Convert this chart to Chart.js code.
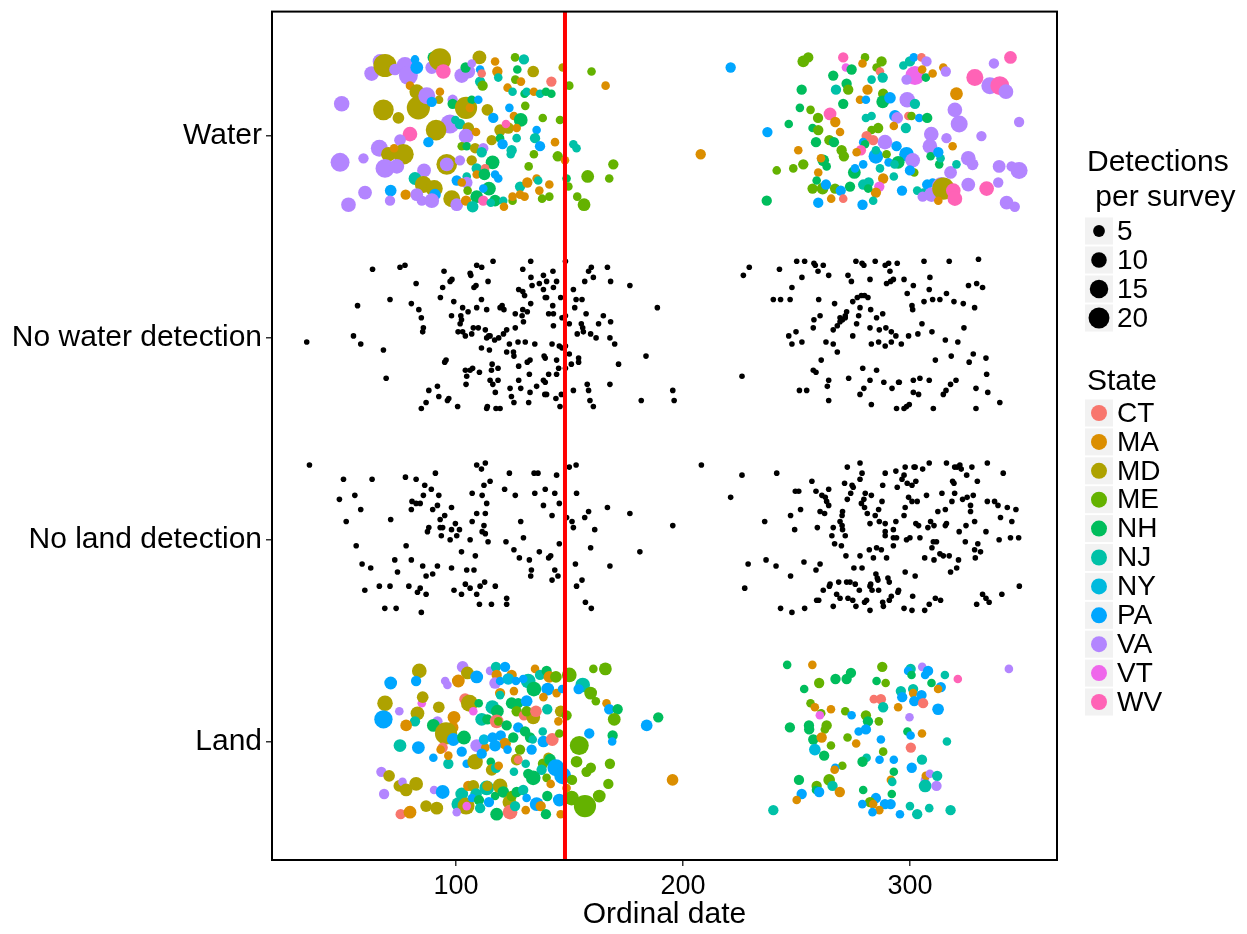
<!DOCTYPE html>
<html>
<head>
<meta charset="utf-8">
<script src="https://cdn.jsdelivr.net/npm/chart.js@4"></script>
<style>
  body { margin: 0; background: #fff; }
  canvas { display: block; }
</style>
</head>
<body>
<canvas id="myChart" width="1247" height="934"></canvas>
<script>
// row labels, bottom to top (y = 1..4)
const rowLabels = ["Land", "No land detection", "No water detection", "Water"];
const xTicks = [100, 200, 300];
const cutoffDate = 148;
const stateNames = ["CT", "MA", "MD", "ME", "NH", "NJ", "NY", "PA", "VA", "VT", "WV"];
const sizeBreaks = [5, 10, 15, 20];

// [ordinal date, jittered row value, state, detections per survey]
const waterPts = [
[62.8,4.31,'VA',6],[66.5,4.37,'VA',6],[68.7,4.35,'MD',20],[73.1,4.33,'VA',3],[77.5,4.35,'VA',9],[79.0,4.30,'VA',12],[82.7,4.34,'PA',4],[81.9,4.38,'PA',1],[89.3,4.34,'VA',4],[90.0,4.39,'NH',3],[92.9,4.38,'MD',18],[94.4,4.32,'WV',6],[102.5,4.30,'VA',6],[105.4,4.32,'VA',5],[104.2,4.34,'NH',2],[110.3,4.39,'MD',5],[106.9,4.36,'VA',1],[110.6,4.33,'PA',1],[110.6,4.27,'NJ',2],[111.3,4.31,'CT',1],[111.7,4.25,'ME',2],[117.2,4.37,'MA',1],[118.2,4.32,'MA',2],[118.6,4.29,'NJ',1],[126.0,4.39,'ME',1],[129.9,4.38,'NJ',2],[127.0,4.33,'NH',1],[126.1,4.28,'ME',1],[128.6,4.27,'MA',1],[134.0,4.32,'MD',3],[122.7,4.24,'MA',1],[142.0,4.27,'CT',2],[147.0,4.34,'MD',1],[159.7,4.32,'ME',1],[165.9,4.25,'MA',1],[149.9,4.25,'ME',1],
[79.7,4.25,'MA',1],[82.7,4.22,'MD',6],[83.4,4.14,'MD',20],[87.1,4.20,'VA',9],[92.9,4.22,'MA',1],[92.5,4.18,'MD',1],[89.3,4.17,'PA',2],[98.5,4.18,'VA',2],[98.5,4.16,'NH',2],[104.4,4.14,'MD',18],[106.9,4.18,'NH',1],[109.8,4.18,'PA',1],[106.1,4.14,'MA',1],[113.8,4.13,'MD',3],[116.4,4.09,'PA',2],[124.9,4.22,'NJ',1],[130.2,4.21,'NH',1],[131.1,4.22,'NJ',1],[130.5,4.15,'ME',1],[134.3,4.22,'MA',1],[137.0,4.21,'NJ',1],[139.6,4.22,'NH',1],[142.0,4.21,'NH',1],[123.5,4.14,'PA',1],[68.0,4.13,'MD',15],[49.6,4.16,'VA',7],[74.6,4.09,'MD',3],[125.5,4.10,'MA',1],[128.5,4.08,'NH',5],[138.2,4.09,'ME',1],[145.8,4.08,'ME',1],
[97.3,4.06,'VA',12],[99.7,4.08,'NJ',1],[101.7,4.06,'NJ',2],[105.4,4.04,'MD',3],[91.2,4.03,'MD',15],[79.7,4.01,'WV',6],[75.3,3.98,'VA',3],[104.4,4.00,'VA',6],[108.8,4.02,'MA',1],[119.4,4.03,'MD',3],[123.0,4.04,'MD',3],[122.0,4.06,'WV',1],[126.7,4.04,'MA',1],[135.5,4.03,'PA',1],[115.7,3.98,'MD',2],[119.4,3.99,'NH',1],[120.5,3.96,'PA',2],[126.7,3.99,'NJ',1],[134.8,3.99,'NJ',2],[143.6,3.97,'MA',1],[137.0,3.95,'PA',2],[87.8,3.97,'PA',2],
[66.2,3.94,'VA',9],[70.2,3.91,'MD',6],[76.8,3.91,'MD',15],[59.2,3.89,'VA',2],[48.9,3.87,'VA',12],[72.7,3.94,'MA',1],[68.7,3.84,'VA',12],[73.9,3.85,'VA',6],[102.5,3.95,'ME',1],[104.7,3.95,'NH',1],[108.4,3.94,'MD',2],[112.0,3.94,'VA',2],[111.3,3.92,'NJ',2],[95.9,3.86,'MD',15],[95.9,3.86,'VA',5],[101.7,3.88,'VA',2],[106.9,3.88,'MD',2],[116.1,3.87,'NH',5],[124.5,3.93,'NJ',2],[124.1,3.91,'NJ',1],[134.3,3.91,'ME',1],[144.8,3.90,'ME',2],[148.0,3.88,'MA',1],[153.1,3.94,'NJ',1],[151.7,3.96,'NJ',1],[169.3,3.86,'ME',2],[158.0,3.80,'ME',4],[167.5,3.79,'ME',1],[132.0,3.85,'ME',1],
[85.9,3.83,'VA',5],[81.9,3.79,'NJ',4],[85.6,3.76,'MD',9],[90.4,3.74,'MD',9],[109.1,3.84,'NJ',2],[112.8,3.84,'CT',1],[109.1,3.81,'MA',1],[112.5,3.81,'NH',3],[117.2,3.81,'PA',1],[118.6,3.79,'PA',1],[104.7,3.80,'NJ',1],[100.3,3.78,'PA',2],[104.7,3.77,'VA',3],[102.5,3.77,'MA',1],[105.1,3.73,'ME',1],[114.5,3.74,'NH',5],[112.0,3.74,'PA',1],[128.2,3.75,'NJ',2],[131.4,3.77,'MA',2],[135.5,3.79,'MA',1],[136.2,3.78,'NJ',1],[141.1,3.76,'MA',1],[136.7,3.73,'MA',1],[130.2,3.70,'MA',1],[137.9,3.69,'ME',1],[141.1,3.70,'ME',1],[148.7,3.79,'NH',1],[149.5,3.75,'ME',1],[153.4,3.70,'ME',1],[156.4,3.66,'ME',4],
[71.2,3.73,'PA',3],[77.8,3.71,'MA',2],[59.9,3.72,'VA',5],[70.9,3.68,'VA',2],[52.6,3.66,'VA',6],[82.7,3.71,'VA',4],[84.9,3.68,'VA',2],[90.7,3.71,'PA',3],[98.1,3.69,'MD',9],[89.3,3.68,'VA',6],[100.3,3.66,'VA',4],[104.4,3.68,'MA',2],[109.1,3.70,'NH',4],[112.0,3.68,'WV',2],[107.3,3.65,'NJ',3],[117.2,3.68,'NH',3],[120.8,3.68,'NJ',1],[121.1,3.65,'MA',1],[124.9,3.68,'ME',1],[124.9,3.70,'MA',1],[128.2,3.71,'MA',1],[115.3,3.67,'NJ',1],
[221.0,4.34,'PA',2],[207.8,3.91,'MA',2],[237.2,4.02,'PA',2],[241.3,3.83,'ME',1],[236.9,3.68,'NH',2],[253.0,4.37,'ME',3],[255.2,4.39,'ME',2],[270.6,4.39,'WV',2],[280.2,4.39,'ME',1],[271.8,4.34,'VT',1],[274.3,4.33,'NH',2],[279.1,4.36,'MA',1],[287.5,4.37,'ME',2],[285.3,4.34,'ME',1],[286.8,4.32,'CT',1],[288.0,4.29,'NJ',2],[283.1,4.28,'NJ',1],[266.2,4.30,'NH',2],[267.4,4.23,'NJ',2],[272.1,4.26,'NH',2],[272.8,4.23,'ME',2],[252.3,4.23,'NH',2],[297.1,4.35,'NJ',1],[300.0,4.37,'NJ',2],[301.7,4.39,'PA',1],[305.1,4.39,'CT',1],[307.3,4.37,'VA',2],[302.2,4.30,'VT',12],[298.5,4.28,'VA',2],[305.4,4.33,'MA',1],[307.0,4.29,'NH',1],[310.0,4.31,'MA',1],[314.7,4.34,'MA',1],[315.8,4.32,'VA',2],[328.6,4.29,'WV',9],[335.2,4.25,'VA',9],[339.6,4.25,'WV',12],[342.3,4.22,'VA',6],[344.3,4.39,'WV',4],[337.0,4.36,'VA',2],[320.5,4.21,'MA',4],
[281.3,4.23,'MA',2],[288.2,4.21,'ME',2],[288.0,4.17,'NH',4],[278.0,4.18,'MA',1],[280.6,4.18,'PA',1],[291.2,4.19,'PA',3],[298.8,4.18,'VA',7],[302.2,4.16,'NJ',2],[270.6,4.16,'NH',2],[251.5,4.14,'NH',1],[256.2,4.13,'ME',1],[259.5,4.09,'ME',2],[264.8,4.11,'WV',4],[267.1,4.07,'MA',2],[246.6,4.06,'NH',1],[257.1,4.04,'NH',1],[259.6,4.03,'ME',2],[269.2,4.02,'MA',1],[280.6,4.09,'NJ',1],[283.1,4.10,'NJ',1],[293.4,4.10,'PA',3],[294.4,4.09,'VA',3],[299.3,4.10,'CT',1],[300.7,4.10,'ME',1],[304.1,4.09,'PA',1],[307.6,4.09,'NH',2],[319.8,4.13,'VA',6],[321.7,4.06,'VA',9],[348.1,4.07,'VA',2],[331.5,4.00,'VA',2],[316.1,3.99,'VA',2],[318.8,3.95,'MA',1],[309.4,4.01,'VA',6],[308.8,3.95,'VA',6],
[283.1,4.03,'ME',1],[286.0,4.04,'ME',2],[292.9,4.05,'MA',1],[298.2,4.04,'NJ',2],[258.6,3.97,'NH',2],[264.5,3.98,'ME',2],[266.5,3.97,'NH',2],[250.8,3.93,'MA',1],[280.9,4.00,'CT',2],[283.8,3.98,'CT',2],[279.4,3.97,'PA',1],[280.2,3.96,'NH',1],[269.9,3.93,'ME',2],[270.9,3.90,'ME',2],[278.4,3.93,'WV',2],[276.5,3.92,'MA',1],[289.0,3.97,'VA',6],[294.1,3.95,'PA',2],[285.0,3.90,'PA',6],[285.0,3.93,'NJ',1],[289.7,3.91,'ME',1],[298.5,3.91,'PA',6],[301.2,3.88,'VA',6],[294.8,3.87,'NH',4],[290.6,3.87,'PA',1],[293.2,3.86,'NJ',1],
[261.8,3.88,'NH',3],[260.8,3.89,'MA',1],[263.3,3.85,'NH',1],[253.0,3.86,'ME',2],[248.6,3.84,'ME',1],[259.6,3.82,'MA',1],[275.5,3.82,'NH',4],[279.4,3.86,'PA',1],[275.8,3.84,'PA',1],[286.8,3.84,'NJ',1],[292.9,3.80,'NJ',1],[288.2,3.79,'MA',2],[286.5,3.75,'VT',2],[285.0,3.72,'MA',2],[279.4,3.76,'NJ',2],[281.8,3.77,'NJ',2],[273.6,3.75,'NH',2],[281.6,3.74,'NH',1],[257.1,3.74,'ME',2],[258.9,3.78,'NH',1],[261.5,3.74,'ME',3],[263.0,3.76,'PA',2],[267.0,3.74,'ME',2],[269.5,3.73,'PA',2],[265.3,3.69,'MA',1],[270.6,3.69,'CT',1],[259.6,3.67,'PA',2],[279.1,3.66,'PA',2],[283.8,3.68,'NJ',1],[296.5,3.73,'PA',2],
[301.9,3.82,'ME',1],[300.0,3.83,'PA',2],[303.2,3.73,'NJ',1],[305.9,3.72,'NJ',1],[307.6,3.76,'PA',2],[310.0,3.77,'PA',1],[312.9,3.86,'NH',1],[313.5,3.89,'NJ',1],[309.1,3.90,'NH',1],[312.5,3.92,'PA',2],[313.9,3.75,'VA',12],[309.5,3.71,'VA',6],[314.7,3.74,'MD',18],[312.5,3.68,'MA',1],[319.1,3.73,'WV',6],[319.8,3.69,'WV',6],[317.9,3.82,'VA',4],[320.5,3.86,'NJ',1],[325.7,3.76,'VA',5],[325.7,3.89,'VA',6],[327.6,3.86,'VA',3],[339.3,3.85,'VA',4],[348.1,3.83,'VA',9],[344.8,3.85,'VA',2],[333.8,3.74,'WV',6],[338.9,3.77,'VA',2],[342.6,3.67,'VA',5],[346.2,3.65,'VA',2],[305.6,3.70,'VA',2]
];

const landPts = [
[83.8,1.35,'MD',6],[71.2,1.29,'PA',4],[82.4,1.30,'PA',2],[95.2,1.30,'VA',1],[96.2,1.28,'VA',1],[102.9,1.37,'VA',3],[105.0,1.34,'MD',4],[101.0,1.30,'MA',4],[109.1,1.32,'PA',4],[115.0,1.35,'VA',1],[117.6,1.37,'NJ',2],[121.6,1.37,'PA',2],[117.9,1.33,'MA',2],[124.5,1.33,'MA',2],[117.2,1.29,'VA',3],[119.4,1.30,'PA',1],[123.0,1.31,'NY',3],[126.4,1.30,'PA',1],[131.8,1.30,'NJ',6],[129.6,1.31,'PA',1],[134.3,1.26,'NH',6],[134.8,1.36,'MA',1],[137.0,1.33,'NJ',2],[139.9,1.35,'NH',2],[141.1,1.32,'MA',3],[144.0,1.32,'ME',3],[149.9,1.33,'ME',6],[155.8,1.28,'NJ',6],[159.3,1.24,'ME',4],[160.5,1.36,'ME',1],[165.8,1.36,'ME',4],[140.4,1.26,'PA',4],[144.3,1.24,'MA',1],[146.7,1.26,'PA',1],[138.5,1.22,'MA',1],[154.0,1.26,'PA',2],[161.6,1.20,'ME',1],[166.3,1.19,'MA',1],[167.5,1.16,'PA',2],[171.2,1.16,'NH',2],[169.7,1.11,'ME',4],[184.0,1.08,'PA',3],[189.1,1.12,'NH',2],
[68.7,1.19,'MD',7],[68.0,1.11,'PA',11],[75.0,1.15,'VA',1],[84.9,1.19,'VT',1],[85.3,1.22,'MD',3],[83.0,1.14,'MD',5],[81.9,1.10,'NJ',2],[78.0,1.08,'MA',3],[92.4,1.17,'MD',3],[91.8,1.10,'VA',2],[90.0,1.08,'NH',4],[99.1,1.12,'MA',4],[98.5,1.07,'MA',3],[95.6,1.04,'MD',18],[98.8,1.01,'PA',4],[103.5,1.02,'NH',5],[104.0,1.21,'CT',3],[105.9,1.19,'MD',9],[107.6,1.15,'VT',1],[110.0,1.19,'NH',1],[111.3,1.11,'NJ',4],[113.8,1.11,'NH',2],[116.0,1.17,'NJ',5],[118.2,1.15,'NH',4],[117.9,1.10,'CT',5],[118.6,1.10,'ME',1],[119.4,1.24,'MA',2],[119.4,1.23,'NJ',1],[125.5,1.25,'MA',1],[124.5,1.19,'NH',3],[127.4,1.19,'NH',2],[131.1,1.20,'PA',3],[126.7,1.15,'ME',2],[129.9,1.13,'CT',2],[134.0,1.12,'MD',5],[131.1,1.15,'ME',2],[135.2,1.15,'CT',3],[140.2,1.16,'NJ',2],[146.1,1.15,'MD',3],[145.1,1.10,'MA',1],[148.7,1.13,'ME',2],
[75.3,0.98,'NJ',4],[83.4,0.97,'PA',4],[90.0,0.92,'PA',1],[96.6,0.89,'NJ',2],[94.1,0.97,'CT',2],[93.2,0.96,'MA',1],[96.6,0.93,'MA',1],[102.5,0.95,'PA',2],[109.1,0.98,'VA',4],[112.9,0.97,'MA',1],[104.7,0.89,'PA',1],[108.4,0.90,'MD',7],[111.3,0.94,'PA',2],[112.3,1.01,'NY',2],[116.1,1.02,'PA',2],[119.7,1.03,'PA',2],[121.6,0.99,'MA',3],[122.3,1.08,'NH',2],[117.2,0.98,'PA',3],[125.2,1.02,'NH',2],[127.4,1.07,'PA',2],[130.4,1.05,'NH',2],[132.6,1.02,'NH',2],[133.8,1.01,'NJ',1],[128.2,0.96,'ME',2],[133.3,0.96,'PA',2],[138.5,1.00,'PA',3],[142.4,1.01,'CT',4],[138.2,1.05,'NJ',1],[145.5,1.04,'ME',1],[122.7,0.96,'PA',1],
[115.3,0.90,'NH',1],[115.7,0.86,'MD',3],[117.6,0.87,'NJ',2],[118.8,0.88,'MA',1],[125.5,0.85,'NJ',1],[126.7,0.91,'MD',3],[127.4,0.91,'CT',1],[130.7,0.89,'NJ',1],[131.8,0.84,'NH',2],[138.3,0.89,'ME',2],[140.7,0.92,'MD',2],[141.4,0.91,'NH',3],[144.0,0.87,'PA',9],[147.0,0.83,'PA',9],[137.7,0.86,'NJ',2],[134.0,0.82,'NH',6],[139.9,0.82,'ME',1],[141.7,0.79,'MA',1],
[154.3,0.98,'ME',12],[158.7,1.04,'PA',2],[169.0,1.03,'NH',2],[168.8,1.00,'PA',1],[153.1,0.90,'ME',3],[159.4,0.87,'ME',2],[157.5,0.85,'ME',2],[167.8,0.89,'ME',2],[195.4,0.81,'MA',3],[167.1,0.79,'ME',2],[163.1,0.73,'ME',4],[150.9,0.72,'ME',6],[156.8,0.68,'ME',18],[151.1,0.81,'ME',2],
[67.1,0.85,'VA',2],[70.5,0.83,'MD',3],[75.0,0.78,'MD',3],[76.4,0.80,'VA',1],[78.0,0.76,'MD',4],[82.4,0.79,'MD',5],[68.3,0.74,'VA',2],[90.3,0.76,'VA',1],[94.1,0.75,'PA',5],[86.8,0.68,'MD',3],[91.5,0.67,'MD',4],[75.6,0.64,'CT',2],[79.7,0.65,'MA',4],[102.5,0.74,'NJ',4],[101.0,0.69,'NJ',5],[104.4,0.68,'MD',9],[104.7,0.68,'VT',1],[100.3,0.65,'VA',1],[105.4,0.78,'MA',2],[107.6,0.78,'MD',3],[108.8,0.74,'NJ',3],[107.0,0.72,'PA',1],[110.1,0.71,'NH',2],[110.6,0.67,'NJ',2],[113.5,0.77,'NJ',6],[113.8,0.78,'MD',2],[117.2,0.73,'NH',1],[114.5,0.70,'PA',2],[119.4,0.78,'MD',6],[120.8,0.75,'NH',3],[123.5,0.70,'MD',5],[124.5,0.73,'ME',2],[126.7,0.75,'NH',2],[129.6,0.76,'NJ',2],[131.1,0.72,'PA',1],[135.5,0.69,'PA',5],[137.3,0.68,'MA',2],[140.2,0.73,'NH',2],[117.9,0.64,'NH',4],[123.8,0.65,'CT',6],[126.0,0.68,'NJ',2],[130.7,0.66,'MA',1],[139.6,0.64,'NH',2],[145.5,0.71,'PA',4],[146.1,0.64,'MA',1],[148.7,0.77,'MA',1],
[245.9,1.38,'NH',1],[257.0,1.38,'MA',1],[287.8,1.37,'ME',2],[305.4,1.37,'VA',1],[300.3,1.36,'NJ',2],[299.2,1.35,'PA',1],[308.0,1.35,'PA',2],[306.7,1.33,'PA',1],[300.7,1.33,'NH',1],[315.4,1.33,'NJ',1],[321.1,1.31,'WV',1],[343.6,1.36,'VA',1],[260.0,1.29,'ME',2],[267.2,1.31,'NH',2],[274.0,1.34,'NH',2],[272.1,1.31,'NH',2],[285.3,1.30,'NH',1],[289.3,1.29,'ME',1],[253.4,1.26,'NH',1],[309.5,1.29,'NH',1],[313.6,1.27,'PA',2],[312.4,1.26,'MA',1],[296.0,1.25,'NJ',2],[296.6,1.22,'PA',2],[301.4,1.26,'NJ',2],[301.4,1.24,'MA',1],[305.1,1.23,'PA',2],[301.9,1.20,'PA',2],[305.8,1.19,'CT',2],[284.1,1.21,'CT',1],[287.2,1.21,'CT',2],[288.2,1.17,'NJ',2],[312.4,1.16,'PA',3],[294.8,1.17,'MA',1],[299.8,1.12,'VA',1],
[256.2,1.19,'ME',1],[258.1,1.17,'MA',1],[260.9,1.14,'ME',1],[260.3,1.13,'VT',1],[265.2,1.16,'MA',1],[271.5,1.15,'ME',1],[274.3,1.13,'PA',1],[280.6,1.13,'ME',2],[281.5,1.10,'NH',2],[286.3,1.10,'ME',1],[247.1,1.07,'NH',2],[255.5,1.08,'NH',2],[255.6,1.06,'NH',2],[263.3,1.08,'ME',2],[262.5,1.06,'ME',1],[277.4,1.05,'PA',1],[280.6,1.06,'PA',2],[298.9,1.05,'NH',1],[300.3,1.03,'PA',1],[305.3,1.04,'MA',1],[257.4,1.01,'NH',2],[261.1,1.02,'MA',2],[265.2,0.98,'ME',1],[272.5,1.02,'ME',1],[276.3,0.99,'MA',1],[287.2,1.01,'PA',1],[316.3,1.00,'NJ',1],[300.4,0.97,'CT',2],[258.1,0.96,'NY',3],[288.2,0.95,'ME',1],
[262.2,0.93,'NH',2],[280.9,0.92,'NJ',1],[279.1,0.90,'NH',2],[286.6,0.91,'PA',1],[292.9,0.91,'PA',1],[305.3,0.91,'NJ',2],[300.8,0.87,'PA',2],[270.2,0.88,'ME',1],[267.1,0.87,'PA',1],[266.8,0.86,'MA',1],[292.9,0.85,'NH',1],[251.1,0.81,'NH',2],[264.4,0.81,'ME',3],[265.9,0.78,'NJ',2],[258.9,0.78,'ME',2],[258.6,0.76,'NH',1],[260.0,0.75,'PA',2],[252.3,0.74,'PA',2],[269.1,0.75,'MA',2],[250.1,0.71,'MA',1],[291.6,0.81,'MA',1],[292.2,0.80,'NJ',1],[306.6,0.81,'VA',1],[307.0,0.83,'MA',1],[308.8,0.84,'VA',1],[312.0,0.83,'NJ',2],[306.7,0.78,'NJ',4],[311.7,0.78,'VA',2],
[279.4,0.76,'NH',1],[292.0,0.74,'NH',1],[285.0,0.72,'PA',2],[282.4,0.70,'ME',2],[279.0,0.69,'PA',1],[283.8,0.69,'MA',1],[289.0,0.69,'PA',2],[291.5,0.69,'PA',2],[286.5,0.66,'MA',1],[283.5,0.65,'PA',1],[300.0,0.68,'NJ',1],[308.5,0.67,'NJ',1],[317.9,0.66,'NJ',2],[303.2,0.64,'NJ',2],[295.6,0.64,'PA',1],[239.8,0.66,'NJ',2]
];

// [ordinal date, jittered row value] surveys with no detection
const noWaterPts = [
[34.2,2.98],[54.8,3.01],[58.0,2.97],[56.6,3.16],[63.2,3.34],[70.9,3.19],[68.0,2.94],[69.2,2.80],[75.3,3.35],[77.5,3.36],[82.4,3.27],[80.3,3.17],[83.6,3.14],[84.7,3.10],[85.6,3.05],[85.3,3.03],[94.7,3.33],[94.1,3.25],[93.1,3.20],[99.0,3.18],[98.0,3.11],[98.2,3.29],[97.4,3.28],[102.9,3.15],[102.1,3.11],[102.4,3.09],[101.8,3.07],[102.9,3.03],[100.9,3.03],[104.1,3.01],[105.3,3.13],[106.9,3.02],[107.6,3.05],[109.8,3.05],[106.2,3.32],[106.5,3.31],[109.1,3.36],[111.3,3.35],[107.9,3.25],[108.8,3.26],[111.2,3.19],[109.1,3.15],[113.5,3.14],[114.1,3.28],[116.3,3.38],[112.9,3.04],[114.4,3.01],[113.5,3.00],[115.0,3.01],[117.0,2.99],[118.8,3.00],[120.9,3.02],[122.3,3.04],[119.4,3.15],[120.3,3.16],[121.1,3.14],[126.1,3.05],[126.1,3.12],[127.6,3.24],[129.4,3.23],[130.2,3.21],[129.4,3.34],[132.9,3.38],[133.0,3.30],[133.5,3.26],[131.4,3.13],[129.4,3.14],[129.1,3.11],[129.7,3.08],[132.9,3.17],[136.7,3.27],[138.5,3.24],[138.5,3.31],[139.9,3.28],[142.7,3.33],[144.3,3.28],[142.9,3.25],[139.3,3.20],[139.9,3.20],[142.6,3.16],[140.8,3.12],[142.9,3.12],[142.9,3.06],[146.1,3.20],[146.7,3.10],[123.5,2.97],[127.3,2.98],[130.5,2.98],[134.7,2.97],[142.3,2.97],[145.5,2.96],[146.7,2.95],[111.2,2.95],[114.7,2.94],[122.3,2.93],[125.3,2.93],[125.5,2.91],[95.0,2.88],[95.6,2.89],[104.1,2.84],[104.7,2.81],[106.2,2.84],[107.3,2.85],[110.3,2.83],[115.9,2.87],[118.5,2.85],[115.6,2.84],[115.0,2.79],[116.2,2.77],[118.5,2.79],[117.3,2.73],[104.4,2.77],[91.8,2.76],[88.0,2.74],[92.4,2.71],[96.8,2.70],[96.2,2.69],[86.8,2.68],[84.7,2.65],[100.7,2.66],[113.5,2.65],[113.8,2.66],[117.6,2.65],[119.4,2.65],[123.8,2.75],[124.4,2.71],[125.5,2.68],[127.6,2.79],[128.5,2.75],[127.6,2.86],[131.4,2.88],[132.6,2.89],[132.3,2.82],[135.5,2.76],[132.6,2.73],[132.0,2.68],[138.5,2.79],[139.3,2.78],[140.8,2.82],[139.3,2.90],[138.8,2.91],[139.9,2.72],[139.1,2.72],[144.0,2.70],[144.3,2.89],[145.2,2.85],[144.3,2.82],[148.2,2.85],[145.8,2.66],[146.4,2.72],[149.9,2.92],[151.7,2.74],[150.8,2.87],[154.0,2.90],[154.0,2.88],[148.2,2.96],[148.2,3.11],[148.2,3.38],[149.9,3.07],[151.7,3.24],[152.3,3.15],[152.9,3.19],[155.5,3.19],[157.3,3.12],[155.2,3.07],[155.8,3.05],[156.1,3.03],[153.4,3.02],[158.4,3.33],[159.6,3.35],[156.7,3.28],[160.5,3.30],[159.3,3.02],[161.7,3.00],[162.8,3.07],[164.9,3.11],[166.7,3.35],[168.1,3.28],[168.1,3.08],[167.8,3.00],[169.9,2.97],[171.6,2.87],[176.6,3.26],[188.7,3.15],[183.7,2.91],[181.6,2.69],[167.8,2.77],[157.8,2.77],[158.4,2.74],[159.0,2.69],[160.5,2.66],
[195.5,2.74],[196.1,2.69],[226.0,2.81],[226.6,3.31],[229.2,3.35],[242.5,3.34],[239.8,3.19],[243.0,3.19],[247.2,3.19],[248.0,3.25],[246.6,3.01],[248.0,2.97],[249.8,3.03],[252.4,3.30],[252.4,2.98],[250.1,3.38],[253.6,3.38],[257.7,3.37],[258.3,3.36],[259.5,3.33],[261.8,3.36],[264.2,3.31],[259.8,3.19],[257.7,3.09],[260.4,3.11],[257.4,3.05],[263.0,2.98],[266.2,2.97],[268.0,2.93],[266.8,3.17],[266.2,3.04],[268.0,3.06],[269.2,3.08],[269.2,3.10],[270.3,3.09],[271.5,3.11],[272.1,3.13],[271.5,3.10],[260.9,2.89],[257.4,2.84],[258.6,2.83],[264.2,2.79],[263.6,2.76],[264.2,2.69],[251.3,2.74],[254.5,2.74],[273.0,2.80],[274.8,3.01],[276.5,3.07],[277.4,3.11],[278.0,3.15],[274.8,3.18],[276.8,3.20],[278.6,3.21],[280.0,3.21],[281.5,3.20],[276.2,3.38],[278.9,3.37],[279.7,3.36],[284.7,3.38],[282.4,3.29],[272.7,3.31],[274.2,3.28],[282.7,3.14],[285.3,3.10],[288.0,3.12],[282.4,3.05],[286.5,3.04],[289.4,3.05],[291.8,3.03],[293.8,3.01],[286.2,2.98],[289.1,2.96],[291.8,2.98],[296.2,2.97],[283.0,2.97],[279.2,2.85],[279.7,2.75],[278.0,2.72],[282.4,2.79],[285.3,2.84],[288.5,2.78],[292.1,2.75],[295.0,2.78],[283.0,2.67],[294.1,2.65],[297.4,2.65],[298.5,2.66],[299.7,2.67],[289.1,3.36],[290.6,3.37],[294.4,3.37],[291.2,3.33],[292.7,3.29],[291.5,3.28],[289.7,3.27],[297.4,3.29],[298.8,3.22],[301.5,3.26],[300.9,3.16],[301.2,3.14],[299.4,3.01],[303.5,3.02],[305.3,3.07],[306.2,3.18],[308.8,3.30],[310.0,3.19],[308.5,3.24],[313.2,3.19],[316.1,3.22],[319.4,3.18],[323.5,3.17],[328.5,3.15],[325.8,3.26],[329.4,3.27],[332.0,3.25],[323.8,3.05],[321.1,2.98],[315.6,2.99],[309.7,3.03],[311.2,2.89],[318.2,2.91],[326.1,2.88],[327.9,2.92],[333.5,2.90],[333.8,2.82],[334.3,2.73],[329.1,2.75],[329.1,2.65],[317.9,2.77],[320.3,2.79],[314.7,2.72],[315.9,2.74],[301.5,2.79],[304.4,2.80],[308.5,2.79],[301.5,2.73],[303.8,2.72],[310.3,2.65],[295.3,2.78],[306.2,3.38],[317.3,3.38],[330.2,3.39],[339.6,2.68]
];

const noLandPts = [
[35.4,2.37],[50.4,2.30],[63.0,2.30],[48.6,2.20],[55.4,2.22],[58.0,2.15],[51.6,2.09],[56.0,1.97],[58.6,1.88],[62.4,1.86],[59.8,1.75],[68.6,1.66],[73.6,1.66],[66.2,1.77],[70.9,1.77],[71.2,2.10],[73.0,1.90],[74.2,1.84],[77.7,2.31],[82.4,2.30],[78.0,1.97],[80.3,1.90],[80.3,2.15],[80.6,2.19],[82.4,2.18],[84.2,2.18],[86.2,2.27],[89.1,2.25],[85.6,2.22],[90.9,2.33],[92.4,2.22],[91.8,2.17],[89.7,2.15],[98.0,2.16],[95.0,2.12],[93.0,2.10],[93.0,2.06],[94.1,2.06],[88.0,2.06],[87.4,2.04],[99.7,2.08],[98.0,2.05],[101.5,2.05],[93.5,2.02],[97.4,2.00],[100.3,2.02],[85.3,1.87],[86.8,1.82],[89.7,1.83],[91.8,1.87],[98.0,1.86],[79.2,1.77],[84.2,1.76],[83.0,1.74],[86.8,1.73],[84.7,1.64],[99.1,1.75],[102.4,1.73],[104.1,1.78],[106.2,1.76],[104.7,1.85],[107.9,1.85],[109.1,1.73],[110.3,1.68],[110.6,1.77],[112.6,1.79],[115.6,1.68],[117.3,1.77],[102.4,1.94],[108.5,1.92],[106.2,2.00],[107.1,2.09],[109.1,2.13],[112.9,2.13],[112.3,2.07],[111.5,2.04],[112.9,2.03],[114.1,1.99],[107.1,2.23],[111.5,2.22],[113.5,2.18],[112.3,2.27],[115.0,2.29],[109.1,2.37],[111.2,2.35],[112.9,2.38],[121.4,2.25],[123.5,2.33],[126.1,2.22],[122.0,1.99],[125.5,1.95],[127.9,1.91],[128.5,2.09],[129.7,2.01],[132.3,1.90],[133.2,1.85],[132.9,1.82],[134.7,2.23],[134.4,2.33],[136.1,2.33],[138.5,2.17],[139.3,2.25],[136.7,1.94],[140.8,1.91],[141.7,1.92],[142.3,2.12],[143.5,2.23],[144.3,2.32],[145.5,2.18],[145.5,1.98],[143.5,1.85],[144.9,1.82],[142.3,1.80],[122.3,1.71],[122.3,1.68],[149.9,2.36],[152.9,2.37],[153.1,2.23],[148.7,2.11],[151.1,2.09],[151.7,2.06],[161.1,2.05],[158.4,2.14],[156.7,2.11],[159.3,1.96],[152.6,1.88],[155.5,1.80],[153.1,1.77],[157.0,1.69],[159.6,1.66],[166.7,2.16],[167.8,1.87],[176.6,2.13],[181.0,1.94],
[195.5,2.07],[208.1,2.37],[226.0,2.32],[221.0,2.21],[241.3,2.33],[236.0,2.09],[228.7,1.88],[236.6,1.90],[241.0,1.87],[227.2,1.76],[243.0,1.66],[248.0,1.64],[253.6,1.66],[247.4,1.82],[253.3,1.89],[258.6,1.85],[260.4,1.88],[247.4,2.12],[249.2,2.05],[251.8,2.15],[249.5,2.24],[251.0,2.24],[256.8,2.29],[258.6,2.24],[261.2,2.22],[262.7,2.21],[263.3,2.19],[264.2,2.17],[264.2,2.25],[260.4,2.14],[259.2,2.06],[262.4,2.13],[266.2,2.06],[265.6,2.02],[266.8,1.98],[269.8,1.97],[270.3,2.14],[270.1,2.12],[269.2,2.09],[270.1,2.07],[270.3,2.05],[271.5,2.02],[272.4,2.36],[271.2,2.28],[274.5,2.27],[275.0,2.26],[273.9,2.23],[272.4,2.20],[278.0,2.38],[278.9,2.33],[278.0,2.30],[278.6,2.18],[279.7,2.20],[280.3,2.23],[283.0,2.22],[280.0,2.16],[281.2,2.13],[282.4,2.08],[284.7,2.12],[286.2,2.15],[286.5,2.09],[287.7,2.19],[288.0,2.27],[289.1,2.33],[293.8,2.34],[294.4,2.26],[296.5,2.30],[297.9,2.36],[297.4,2.32],[298.8,2.28],[300.9,2.27],[302.6,2.29],[301.8,2.36],[302.3,2.36],[305.6,2.35],[308.5,2.38],[299.4,2.21],[300.9,2.19],[303.2,2.19],[297.9,2.16],[297.4,2.12],[293.8,2.09],[289.1,2.08],[289.1,2.04],[289.1,2.02],[292.7,2.05],[292.7,2.01],[294.1,2.01],[292.7,1.97],[298.5,2.00],[300.0,2.01],[304.4,2.01],[302.6,2.08],[303.8,2.07],[307.9,2.06],[309.1,2.09],[310.6,2.07],[310.3,1.99],[311.7,1.99],[309.7,1.96],[307.3,2.22],[312.3,2.14],[314.1,2.23],[315.6,2.15],[316.1,2.38],[319.7,2.36],[320.8,2.36],[322.0,2.37],[322.6,2.35],[325.0,2.32],[327.3,2.36],[318.8,2.29],[319.4,2.28],[319.7,2.23],[318.5,2.19],[323.2,2.20],[325.2,2.21],[327.9,2.22],[329.7,2.29],[326.7,2.17],[326.7,2.14],[334.1,2.38],[341.1,2.33],[334.1,2.19],[337.3,2.19],[338.8,2.17],[342.9,2.16],[346.7,2.15],[333.5,2.04],[339.9,2.11],[344.9,2.09],[339.3,2.00],[344.3,2.01],[347.9,2.01],[328.5,2.09],[324.7,2.07],[324.4,1.99],[321.7,2.04],[316.1,2.08],[315.6,2.07],[313.2,1.93],[314.7,1.92],[317.3,1.92],[321.4,1.90],[329.9,1.98],[328.5,1.95],[331.1,1.94],[328.8,1.91],[317.9,1.84],[320.6,1.86],[306.5,1.91],[310.6,1.90],[278.0,1.92],[282.1,1.95],[283.9,1.91],[285.3,1.96],[287.4,1.95],[289.7,1.91],[271.8,1.92],[275.3,1.86],[278.9,1.86],[285.0,1.83],[285.6,1.81],[290.3,1.81],[285.9,1.80],[272.1,1.79],[268.6,1.79],[264.8,1.78],[264.5,1.77],[261.8,1.75],[267.7,1.73],[269.2,1.71],[266.2,1.67],[273.6,1.79],[275.9,1.78],[277.7,1.75],[282.7,1.78],[282.4,1.77],[283.3,1.75],[286.2,1.75],[290.9,1.79],[291.8,1.72],[294.7,1.74],[295.0,1.75],[272.7,1.71],[274.8,1.70],[276.2,1.67],[280.0,1.69],[280.9,1.70],[282.4,1.65],[288.0,1.69],[288.3,1.67],[290.9,1.70],[297.4,1.66],[300.9,1.65],[306.5,1.65],[308.5,1.68],[311.2,1.71],[313.5,1.70],[301.2,1.72],[297.9,1.84],[302.3,1.82],[340.5,1.73],[332.0,1.73],[333.5,1.71],[334.9,1.69],[329.4,1.68],[348.2,1.77],[259.8,1.70],[258.9,1.70]
];

// ggplot default hue palette, one per state
const stateColors = {
  CT: "#F8766D", MA: "#DB8E00", MD: "#AEA200", ME: "#64B200", NH: "#00BD5C", NJ: "#00C1A7",
  NY: "#00BADE", PA: "#00A6FF", VA: "#B385FF", VT: "#EF67EB", WV: "#FF63B6"
};
const FONT = '"Liberation Sans", Arial, sans-serif';

// point radius in px for a detection count
function sizeRadius(n) {
  return 2.2 + 2.1 * Math.sqrt(n);
}

// legend key radius (legend keys in the original are a touch smaller)
function keyRadius(n) {
  return 1.3 + 2.05 * Math.sqrt(n);
}

function toObjs(arr) {
  return arr.map(p => ({ x: p[0], y: p[1], s: p[2], n: p[3] }));
}

const frame = {
  id: "frame",
  afterDatasetsDraw(chart) {
    const a = chart.chartArea;
    const ctx = chart.ctx;
    ctx.save();
    ctx.strokeStyle = "#000";
    ctx.lineWidth = 2;
    ctx.strokeRect(a.left, a.top, a.right - a.left, a.bottom - a.top);
    ctx.restore();
  }
};

const sideLegend = {
  id: "sideLegend",
  afterDraw(chart) {
    const ctx = chart.ctx;
    ctx.save();
    ctx.textBaseline = "middle";
    ctx.textAlign = "left";
    ctx.fillStyle = "#000";
    ctx.font = "30px " + FONT;
    ctx.fillText("Detections", 1087, 163);
    ctx.fillText(" per survey", 1087, 198);
    ctx.font = "28px " + FONT;
    sizeBreaks.forEach((v, i) => {
      const cy = 231 + i * 29;
      ctx.fillStyle = "#F2F2F2";
      ctx.fillRect(1085, cy - 13.5, 28, 27);
      ctx.fillStyle = "#000";
      ctx.beginPath();
      ctx.arc(1099, cy, keyRadius(v), 0, Math.PI * 2);
      ctx.fill();
      ctx.fillText(String(v), 1117, cy + 1);
    });
    ctx.font = "30px " + FONT;
    ctx.fillText("State", 1087, 382);
    ctx.font = "28px " + FONT;
    stateNames.forEach((s, i) => {
      const cy = 413 + i * 28.9;
      ctx.fillStyle = "#F2F2F2";
      ctx.fillRect(1085, cy - 13.5, 28, 27);
      ctx.fillStyle = stateColors[s];
      ctx.beginPath();
      ctx.arc(1099, cy, 8, 0, Math.PI * 2);
      ctx.fill();
      ctx.fillStyle = "#000";
      ctx.fillText(s, 1117, cy + 1);
    });
    ctx.restore();
  }
};

function coloredSet(arr) {
  return {
    data: toObjs(arr),
    pointRadius: c => sizeRadius(c.raw.n),
    pointBackgroundColor: c => stateColors[c.raw.s],
    pointBorderWidth: 0,
    pointHoverRadius: c => sizeRadius(c.raw.n),
    order: 1
  };
}

function blackSet(arr) {
  return {
    data: arr.map(p => ({ x: p[0], y: p[1] })),
    pointRadius: 2.8,
    pointBackgroundColor: "#000",
    pointBorderWidth: 0,
    order: 1
  };
}

function noPad(s) {
  s.paddingTop = 0;
  s.paddingBottom = 0;
  s.paddingLeft = 0;
  s.paddingRight = 0;
}

const ctx = document.getElementById("myChart");
const myChart = new Chart(ctx, {
  type: "scatter",
  data: {
    datasets: [
      {
        type: "line",
        data: [{ x: cutoffDate, y: 0 }, { x: cutoffDate, y: 5 }],
        borderColor: "#FF0000",
        borderWidth: 4,
        pointRadius: 0,
        order: 0
      },
      coloredSet(waterPts),
      blackSet(noWaterPts),
      blackSet(noLandPts),
      coloredSet(landPts)
    ]
  },
  options: {
    responsive: false,
    animation: false,
    events: [],
    layout: { padding: { left: 0, right: 190, top: 8, bottom: 0 } },
    plugins: { legend: { display: false }, tooltip: { enabled: false } },
    scales: {
      x: {
        type: "linear",
        min: 18.9,
        max: 364.8,
        afterBuildTicks: a => { a.ticks = xTicks.map(v => ({ value: v })); },
        afterFit: s => { s.height = 74; noPad(s); },
        ticks: { color: "#000", font: { family: FONT, size: 27 }, padding: 4, maxRotation: 0 },
        grid: { drawOnChartArea: false, drawTicks: true, tickLength: 6, color: "#333", lineWidth: 1.5 },
        border: { display: false },
        title: { display: true, text: "Ordinal date", color: "#000", font: { family: FONT, size: 30 }, padding: { top: 0, bottom: 1 } }
      },
      y: {
        type: "linear",
        min: 0.413,
        max: 4.617,
        afterBuildTicks: a => { a.ticks = rowLabels.map((_, i) => ({ value: i + 1 })); },
        afterFit: s => { s.width = 272; noPad(s); },
        ticks: { color: "#000", font: { family: FONT, size: 30 }, padding: 4, callback: v => rowLabels[v - 1] },
        grid: { drawOnChartArea: false, drawTicks: true, tickLength: 6, color: "#333", lineWidth: 1.5 },
        border: { display: false }
      }
    }
  },
  plugins: [frame, sideLegend]
});
</script>
</body>
</html>
